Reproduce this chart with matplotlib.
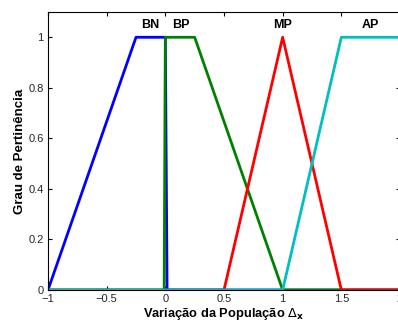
import matplotlib
matplotlib.use("Agg")
from matplotlib import pyplot as plt

plt.rcParams['font.family'] = ['Liberation Sans', 'DejaVu Sans']

# membership function breakpoints (x) and degrees (y)
bn_x = [-1, -0.25, 0, 0.015, 2]
bn_y = [0, 1, 1, 0, 0]
bp_x = [-1, -0.01, 0, 0.25, 1, 2]
bp_y = [0, 0, 1, 1, 0, 0]
mp_x = [-1, 0.5, 1, 1.5, 2]
mp_y = [0, 0, 1, 0, 0]
ap_x = [-1, 1, 1.5, 2]
ap_y = [0, 0, 1, 1]

names = ['BN', 'BP', 'MP', 'AP']
name_x = [-0.13, 0.13, 1.0, 1.75]
name_y = 1.05

xticks = [-1, -0.5, 0, 0.5, 1, 1.5, 2]
xtick_labels = ['\u22121', '\u22120.5', '0', '0.5', '1', '1.5', '2']
yticks = [0, 0.2, 0.4, 0.6, 0.8, 1]
ytick_labels = ['0', '0.2', '0.4', '0.6', '0.8', '1']

W, H = 398, 326
fig = plt.figure(figsize=(W / 100, H / 100), dpi=100)
ax = fig.add_axes([48 / W, 1 - 290 / H, 352 / W, 278 / H])

lw = 2.0
ax.plot(bn_x, bn_y, color='#0000ff', lw=lw)
ax.plot(bp_x, bp_y, color='#008000', lw=lw)
ax.plot(mp_x, mp_y, color='#ff0000', lw=lw)
ax.plot(ap_x, ap_y, color='#00bfbf', lw=lw)

for n, x in zip(names, name_x):
    ax.text(x, name_y, n, ha='center', va='center', fontsize=9, fontweight='bold')

ax.set_xlim(-1, 2)
ax.set_ylim(0, 1.1)
ax.set_xticks(xticks)
ax.set_xticklabels(xtick_labels)
ax.set_yticks(yticks)
ax.set_yticklabels(ytick_labels)
ax.tick_params(direction='in', top=True, right=True, length=3, labelsize=8,
               pad=3, labelcolor='#262626')

ax.set_xlabel('Variação da População $\\Delta_\\mathbf{x}$', fontsize=9.3,
              fontweight='bold', labelpad=1)
ax.set_ylabel('Grau de Pertinência', fontsize=9.5, fontweight='bold', labelpad=2)

fig.savefig('out.png', dpi=100)
